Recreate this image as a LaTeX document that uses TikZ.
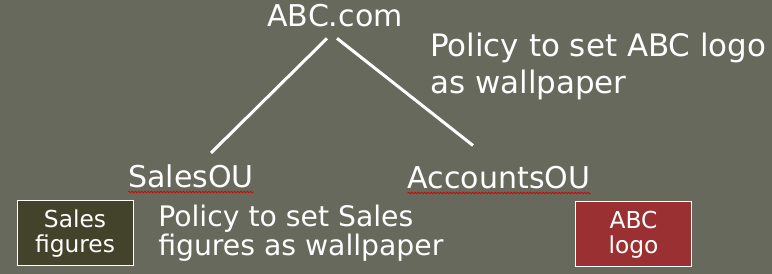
\documentclass[tikz,border=0pt]{standalone}
\usepackage{fontspec}
\setmainfont{DejaVu Sans}
\usetikzlibrary{decorations.pathmorphing}
\definecolor{slide}{RGB}{103,105,92}
\definecolor{olivebox}{RGB}{66,67,42}
\definecolor{redbox}{RGB}{155,48,51}
\begin{document}
\begin{tikzpicture}[x=0.75pt,y=-0.75pt,
	ou/.style={text=white,inner sep=0pt,anchor=base,font=\fontsize{22.5}{27}\selectfont},
	note/.style={text=white,inner sep=0pt,anchor=base west,align=left},
	picbox/.style={draw=white,line width=0.75pt,text=white,inner sep=0pt,minimum width=87pt,minimum height=48.75pt,align=center,font=\fontsize{17.5}{18.75}\selectfont},
	link/.style={white,line width=2.25pt},
	squiggle/.style={red!85!black,line width=0.6pt,decorate,decoration={snake,amplitude=0.6pt,segment length=2.4pt}}]
\fill[slide] (0,0) rectangle (772,274);
\useasboundingbox (0,0) rectangle (772,274);
% domain and the two OUs
\node[ou,name=abc] at (335,27){ABC.com};
\node[ou,name=sales] at (191,188){SalesOU};
\node[ou,name=accounts] at (499,189){AccountsOU};
\foreach \ou in {sales,accounts}{
	\draw[squiggle] ([yshift=-3pt]\ou.base west)--([yshift=-3pt]\ou.base east);
};
\draw[link] ([xshift=-6pt,yshift=-8pt]abc.south)--([xshift=15pt,yshift=9pt]sales.north);
\draw[link] ([xshift=1.5pt,yshift=-8pt]abc.south)--([xshift=-19.5pt,yshift=15.75pt]accounts.north);
% policies (base = last line)
\node[note,font=\fontsize{23.2}{27.5}\selectfont,name=abcpolicy] at (430,93.5){Policy to set ABC logo\\as wallpaper};
\node[note,font=\fontsize{21.2}{17.5}\selectfont,name=salespolicy] at (158,255.5){Policy to set Sales\\figures as wallpaper};
% wallpapers
\node[picbox,fill=olivebox,name=figures] at (75,233.5){Sales\\figures};
\node[picbox,fill=redbox,name=logo] at (633.5,234.5){ABC\\logo};
\end{tikzpicture}
\end{document}
